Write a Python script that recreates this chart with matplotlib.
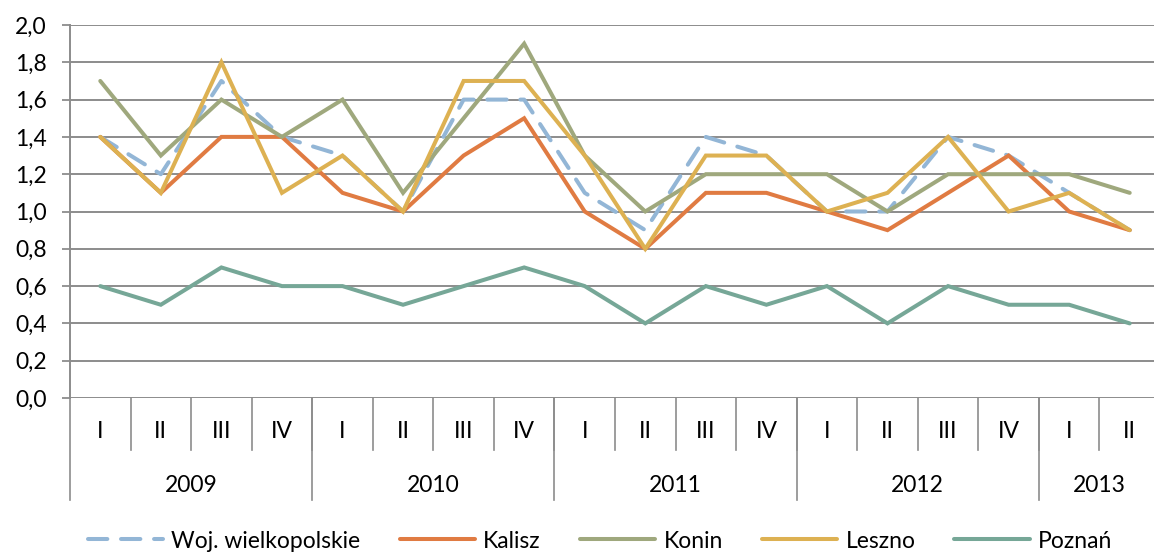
import matplotlib
matplotlib.use("Agg")
import matplotlib.pyplot as plt
import numpy as np

plt.rcParams["font.family"] = ["Lato", "DejaVu Sans"]

quarters = ["I", "II", "III", "IV"] * 4 + ["I", "II"]
years = ["2009", "2010", "2011", "2012", "2013"]
year_len = [4, 4, 4, 4, 2]

woj = [1.4, 1.2, 1.7, 1.4, 1.3, 1.0, 1.6, 1.6, 1.1, 0.9, 1.4, 1.3, 1.0, 1.0, 1.4, 1.3, 1.1, 0.9]
kalisz = [1.4, 1.1, 1.4, 1.4, 1.1, 1.0, 1.3, 1.5, 1.0, 0.8, 1.1, 1.1, 1.0, 0.9, 1.1, 1.3, 1.0, 0.9]
konin = [1.7, 1.3, 1.6, 1.4, 1.6, 1.1, 1.5, 1.9, 1.3, 1.0, 1.2, 1.2, 1.2, 1.0, 1.2, 1.2, 1.2, 1.1]
leszno = [1.4, 1.1, 1.8, 1.1, 1.3, 1.0, 1.7, 1.7, 1.3, 0.8, 1.3, 1.3, 1.0, 1.1, 1.4, 1.0, 1.1, 0.9]
poznan = [0.6, 0.5, 0.7, 0.6, 0.6, 0.5, 0.6, 0.7, 0.6, 0.4, 0.6, 0.5, 0.6, 0.4, 0.6, 0.5, 0.5, 0.4]

series = [
    ("Woj. wielkopolskie", woj, "#93b6d6", True),
    ("Kalisz", kalisz, "#e07b42", False),
    ("Konin", konin, "#9fa87d", False),
    ("Leszno", leszno, "#ddb152", False),
    ("Poznań", poznan, "#76a797", False),
]

AXIS = "#8c8c8c"
FS = 16.5

fig = plt.figure(figsize=(11.54, 5.54), dpi=100)
ax = fig.add_axes([70 / 1154, 1 - 398 / 554, 1090 / 1154, 373 / 554])

x = np.arange(len(quarters)) + 0.5
for label, vals, color, dashed in series:
    line, = ax.plot(x, vals, color=color, lw=2.9, label=label,
                    solid_joinstyle="miter", solid_capstyle="round",
                    dash_capstyle="round")
    if dashed:
        line.set_dashes((4.8, 3.4))

ax.set_xlim(0, len(quarters))
ax.set_ylim(0, 2.0)
yt = np.arange(0, 2.01, 0.2)
ax.set_yticks(yt)
ax.set_yticklabels([f"{v:.1f}".replace(".", ",") for v in yt], fontsize=FS)
ax.tick_params(axis="y", length=5.8, width=1.3, color=AXIS, pad=11)
ax.set_xticks([])
for v in yt:
    ax.axhline(v, color=AXIS, lw=1.4, zorder=0)

for s in ["top", "right", "bottom"]:
    ax.spines[s].set_visible(False)
ax.spines["left"].set_color(AXIS)
ax.spines["left"].set_linewidth(1.4)

# two-level category axis: quarters, then years
tr = ax.get_xaxis_transform()
q_bottom = -52 / 373
y_bottom = -102 / 373
for i, q in enumerate(quarters):
    ax.text(i + 0.5, -34 / 373, q, transform=tr, ha="center", va="center", fontsize=FS)
    if i > 0:
        ax.plot([i, i], [0, q_bottom], transform=tr, color=AXIS, lw=1.2, clip_on=False)
edges = np.concatenate([[0], np.cumsum(year_len)])
for j, yr in enumerate(years):
    ax.text((edges[j] + edges[j + 1]) / 2, -87 / 373, yr, transform=tr,
            ha="center", va="center", fontsize=FS)
for e in edges[:-1]:
    ax.plot([e, e], [0, y_bottom], transform=tr, color=AXIS, lw=1.2, clip_on=False)

fig.legend(loc="center", bbox_to_anchor=(0.52, 1 - 541 / 554), ncol=5, frameon=False,
           fontsize=FS, handlelength=3.3, handletextpad=0.35, columnspacing=1.7)

fig.savefig("out.png", dpi=100)
